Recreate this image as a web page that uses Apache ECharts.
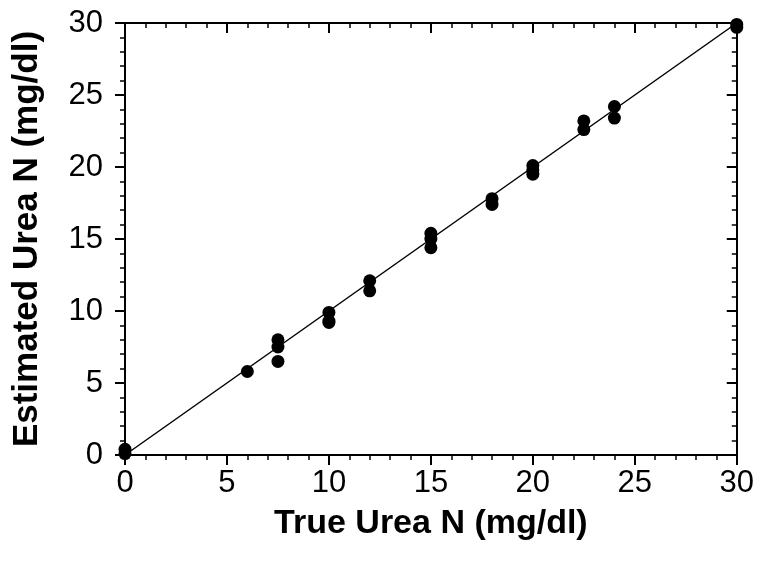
<!DOCTYPE html>
<html>
<head>
<meta charset="utf-8">
<script src="https://cdn.jsdelivr.net/npm/echarts@6/dist/echarts.min.js"></script>
<style>
  html, body { margin: 0; padding: 0; background: #fff; }
  #main { width: 757px; height: 564px; }
</style>
</head>
<body>
<div id="main"></div>
<script>
  // measured points: true urea N vs estimated urea N (mg/dl)
  const trueN = [0, 0, 6, 7.5, 7.5, 7.5, 10, 10, 10, 12, 12, 15, 15, 15, 18, 18, 20, 20, 20, 22.5, 22.5, 24, 24, 30, 30]
  const estN = [0.1, 0.4, 5.8, 8.0, 7.5, 6.5, 9.9, 9.3, 9.2, 12.1, 11.4, 15.4, 15.0, 14.4, 17.8, 17.4, 20.1, 19.8, 19.5, 23.2, 22.6, 24.2, 23.4, 29.9, 29.7]
  // line of identity
  const lineX = [0, 30]
  const lineY = [0, 30]

  const font = 'Liberation Sans, Arial, sans-serif'
  const black = '#000'

  function axisBase(extra) {
    return Object.assign({
      type: 'value',
      min: 0,
      max: 30,
      interval: 5,
      axisLine: { show: true, onZero: false, lineStyle: { color: black, width: 2 } },
      axisTick: { show: true, length: 10, lineStyle: { color: black, width: 2 } },
      minorTick: { show: true, splitNumber: 5, length: 5, lineStyle: { color: black, width: 1.5 } },
      splitLine: { show: false },
      axisLabel: { color: black, fontSize: 31, fontFamily: font },
    }, extra)
  }

  const chart = echarts.init(document.getElementById('main'))
  chart.setOption({
    animation: false,
    backgroundColor: '#fff',
    grid: { left: 125, right: 20, top: 23, bottom: 109 },
    xAxis: [
      axisBase({
        position: 'bottom',
        name: 'True Urea N (mg/dl)',
        nameLocation: 'middle',
        nameGap: 52,
        nameTextStyle: { color: black, fontSize: 34, fontWeight: 'bold', fontFamily: font },
        axisLabel: { color: black, fontSize: 31, fontFamily: font, margin: 13 },
      }),
      axisBase({
        position: 'top',
        axisTick: { show: true, inside: true, length: 10, lineStyle: { color: black, width: 2 } },
        minorTick: { show: true, splitNumber: 5, length: 5, lineStyle: { color: black, width: 1.5 } },
        axisLabel: { show: false },
      }),
    ],
    yAxis: [
      axisBase({
        position: 'left',
        name: 'Estimated Urea N (mg/dl)',
        nameLocation: 'middle',
        nameGap: 80,
        nameTextStyle: { color: black, fontSize: 35, fontWeight: 'bold', fontFamily: font },
        axisLabel: { color: black, fontSize: 31, fontFamily: font, margin: 22 },
      }),
      axisBase({
        position: 'right',
        axisTick: { show: true, inside: true, length: 10, lineStyle: { color: black, width: 2 } },
        minorTick: { show: true, splitNumber: 5, length: 5, lineStyle: { color: black, width: 1.5 } },
        axisLabel: { show: false },
      }),
    ],
    series: [
      {
        type: 'line',
        data: lineX.map((x, i) => [x, lineY[i]]),
        showSymbol: false,
        lineStyle: { color: black, width: 1.5 },
        silent: true,
      },
      {
        type: 'scatter',
        data: trueN.map((x, i) => [x, estN[i]]),
        symbol: 'circle',
        symbolSize: 13,
        itemStyle: { color: black, opacity: 1 },
      },
    ],
  })
</script>
</body>
</html>
